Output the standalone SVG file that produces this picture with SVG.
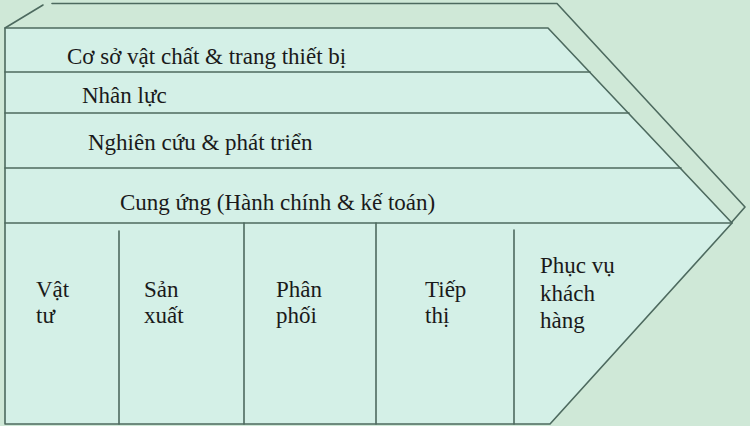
<svg xmlns="http://www.w3.org/2000/svg" width="750" height="426" viewBox="0 0 750 426">
<style>
.ln{stroke:#4d6a5f;stroke-width:1.6;fill:none;stroke-linecap:round;stroke-linejoin:round}
.tx{font-family:"Liberation Serif","Times New Roman","DejaVu Serif",serif;font-size:23px;fill:#1a1a1a}
</style>
<rect x="0" y="0" width="750" height="426" fill="#cfe8d7"/>
<g id="outer-band">
<polyline class="ln" points="5,28 43,5"/>
<polyline class="ln" points="52,3.5 557,3.5 745,207 731,223"/>
</g>
<g id="chain">
<polygon points="5,28 548,28 732,223 550,424 5,424" style="fill:#d4f0e7;stroke:#4d6a5f;stroke-width:1.6;stroke-linejoin:round"/>
</g>
<g id="connectors">
<line class="ln" x1="5" y1="72" x2="590" y2="72"/>
<line class="ln" x1="5" y1="113" x2="629" y2="113"/>
<line class="ln" x1="5" y1="168" x2="681" y2="168"/>
<line class="ln" x1="5" y1="223" x2="732" y2="223"/>
<line class="ln" x1="119" y1="231" x2="119" y2="424"/>
<line class="ln" x1="244" y1="223" x2="244" y2="424"/>
<line class="ln" x1="376" y1="223" x2="376" y2="424"/>
<line class="ln" x1="514" y1="230" x2="514" y2="424"/>
</g>
<g id="support-1"><text class="tx" x="67" y="64">Cơ sở vật chất &amp; trang thiết bị</text></g>
<g id="support-2"><text class="tx" x="82" y="103">Nhân lực</text></g>
<g id="support-3"><text class="tx" x="88" y="150">Nghiên cứu &amp; phát triển</text></g>
<g id="support-4"><text class="tx" x="120" y="210">Cung ứng (Hành chính &amp; kế toán)</text></g>
<g id="primary-1"><text class="tx" x="36" y="297">Vật</text><text class="tx" x="36" y="323">tư</text></g>
<g id="primary-2"><text class="tx" x="144" y="297">Sản</text><text class="tx" x="144" y="323">xuất</text></g>
<g id="primary-3"><text class="tx" x="276" y="297">Phân</text><text class="tx" x="276" y="323">phối</text></g>
<g id="primary-4"><text class="tx" x="425" y="297">Tiếp</text><text class="tx" x="425" y="323">thị</text></g>
<g id="primary-5"><text class="tx" x="540" y="273">Phục vụ</text><text class="tx" x="540" y="301">khách</text><text class="tx" x="540" y="328">hàng</text></g>
</svg>
